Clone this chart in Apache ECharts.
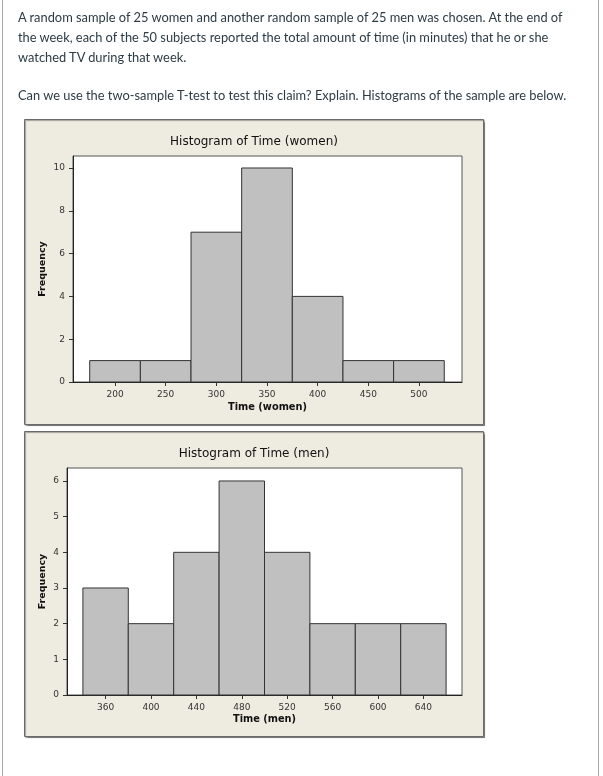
<!DOCTYPE html>
<html>
<head>
<meta charset="utf-8">
<script src="https://cdn.jsdelivr.net/npm/echarts@6/dist/echarts.min.js"></script>
<style>
  html, body { margin: 0; padding: 0; background: #fff; }
  #page { position: relative; width: 603px; height: 776px; overflow: hidden; }
  #frame { position: absolute; left: 2px; top: 0; width: 595px; height: 776px; border-left: 1px solid #aaa; border-right: 1px solid #aaa; }
  #chart { position: absolute; left: 0; top: 0; width: 603px; height: 776px; }
  .txt { position: absolute; left: 18px; font-family: Lato, "Open Sans", sans-serif; font-size: 12.85px; color: #2d3b45; line-height: 20px; white-space: nowrap; }
</style>
</head>
<body>
<div id="page">
  <div id="frame"></div>
  <div id="chart"></div>
  <div class="txt" style="top:7px;">A random sample of 25 women and another random sample of 25 men was chosen. At the end of</div>
  <div class="txt" style="top:27px;">the week, each of the 50 subjects reported the total amount of time (in minutes) that he or she</div>
  <div class="txt" style="top:47px;">watched TV during that week.</div>
  <div class="txt" style="top:85px;">Can we use the two-sample T-test to test this claim? Explain. Histograms of the sample are below.</div>
</div>
<script>
// ---- data ----
const womenEdges = [175, 225, 275, 325, 375, 425, 475, 525];
const womenFreq = [1, 1, 7, 10, 4, 1, 1];
const womenXTicks = [200, 250, 300, 350, 400, 450, 500];
const womenYTicks = [0, 2, 4, 6, 8, 10];

const menEdges = [340, 380, 420, 460, 500, 540, 580, 620, 660];
const menFreq = [3, 2, 4, 6, 4, 2, 2, 2];
const menXTicks = [360, 400, 440, 480, 520, 560, 600, 640];
const menYTicks = [0, 1, 2, 3, 4, 5, 6];

const womenTitle = 'Histogram of Time (women)';
const menTitle = 'Histogram of Time (men)';
const womenXName = 'Time (women)';
const menXName = 'Time (men)';
const yName = 'Frequency';

function toBins(edges, freq) {
  return freq.map((f, i) => [edges[i], edges[i + 1], f]);
}

const tickFont = { fontFamily: 'DejaVu Sans', fontSize: 9, color: '#333' };

function renderItem(params, api) {
  const p0 = api.coord([api.value(0), api.value(2)]);
  const p1 = api.coord([api.value(1), 0]);
  return {
    type: 'rect',
    shape: { x: p0[0], y: p0[1], width: p1[0] - p0[0], height: p1[1] - p0[1] },
    style: { fill: '#C0C0C0', stroke: '#333', lineWidth: 1 }
  };
}

function xAxisCfg(idx, min, max, ticks, name, gap) {
  return {
    type: 'value', gridIndex: idx, min: min, max: max,
    name: name, nameLocation: 'middle', nameGap: gap, nameMoveOverlap: false,
    nameTextStyle: { fontFamily: 'DejaVu Sans', fontSize: 9.8, fontWeight: 'bold', color: '#111' },
    axisLine: { show: true, lineStyle: { color: '#222', width: 1 } },
    axisTick: { show: true, length: 4, customValues: ticks, lineStyle: { color: '#333' } },
    axisLabel: { customValues: ticks, margin: 8, ...tickFont },
    splitLine: { show: false }
  };
}
function yAxisCfg(idx, max, ticks, gap) {
  return {
    type: 'value', gridIndex: idx, min: 0, max: max,
    name: yName, nameLocation: 'middle', nameGap: gap, nameMoveOverlap: false,
    nameTextStyle: { fontFamily: 'DejaVu Sans', fontSize: 9.5, fontWeight: 'bold', color: '#111' },
    axisLine: { show: true, lineStyle: { color: '#222', width: 1 } },
    axisTick: { show: true, length: 4, customValues: ticks, lineStyle: { color: '#333' } },
    axisLabel: { customValues: ticks, margin: 8, ...tickFont },
    splitLine: { show: false }
  };
}

const chart = echarts.init(document.getElementById('chart'), null, { renderer: 'canvas' });
chart.setOption({
  animation: false,
  graphic: [
    { type: 'rect', z: -10, shape: { x: 24.5, y: 119.5, width: 459, height: 305 },
      style: { fill: '#EEEBE1', stroke: '#6b6b6b', lineWidth: 1, shadowColor: 'rgba(0,0,0,0.35)', shadowOffsetX: 1, shadowOffsetY: 1, shadowBlur: 1 } },
    { type: 'rect', z: -10, shape: { x: 24.5, y: 431.5, width: 459, height: 305 },
      style: { fill: '#EEEBE1', stroke: '#6b6b6b', lineWidth: 1, shadowColor: 'rgba(0,0,0,0.35)', shadowOffsetX: 1, shadowOffsetY: 1, shadowBlur: 1 } },
    { type: 'text', x: 254, y: 141.5, style: { text: womenTitle, fontFamily: 'DejaVu Sans', fontSize: 12, fill: '#111', textAlign: 'center', textVerticalAlign: 'middle' } },
    { type: 'text', x: 254, y: 453.5, style: { text: menTitle, fontFamily: 'DejaVu Sans', fontSize: 12, fill: '#111', textAlign: 'center', textVerticalAlign: 'middle' } }
  ],
  grid: [
    { left: 73, top: 156, width: 389, height: 226, show: true, backgroundColor: '#fff', borderColor: '#555', borderWidth: 1 },
    { left: 67, top: 468, width: 395, height: 227, show: true, backgroundColor: '#fff', borderColor: '#555', borderWidth: 1 }
  ],
  xAxis: [
    xAxisCfg(0, 158.5, 542.5, womenXTicks, womenXName, 20),
    xAxisCfg(1, 326, 674, menXTicks, menXName, 19)
  ],
  yAxis: [
    yAxisCfg(0, 10.56, womenYTicks, 25),
    yAxisCfg(1, 6.364, menYTicks, 19)
  ],
  series: [
    { type: 'custom', xAxisIndex: 0, yAxisIndex: 0, renderItem: renderItem,
      encode: { x: [0, 1], y: 2 }, data: toBins(womenEdges, womenFreq) },
    { type: 'custom', xAxisIndex: 1, yAxisIndex: 1, renderItem: renderItem,
      encode: { x: [0, 1], y: 2 }, data: toBins(menEdges, menFreq) }
  ]
});
</script>
</body>
</html>
